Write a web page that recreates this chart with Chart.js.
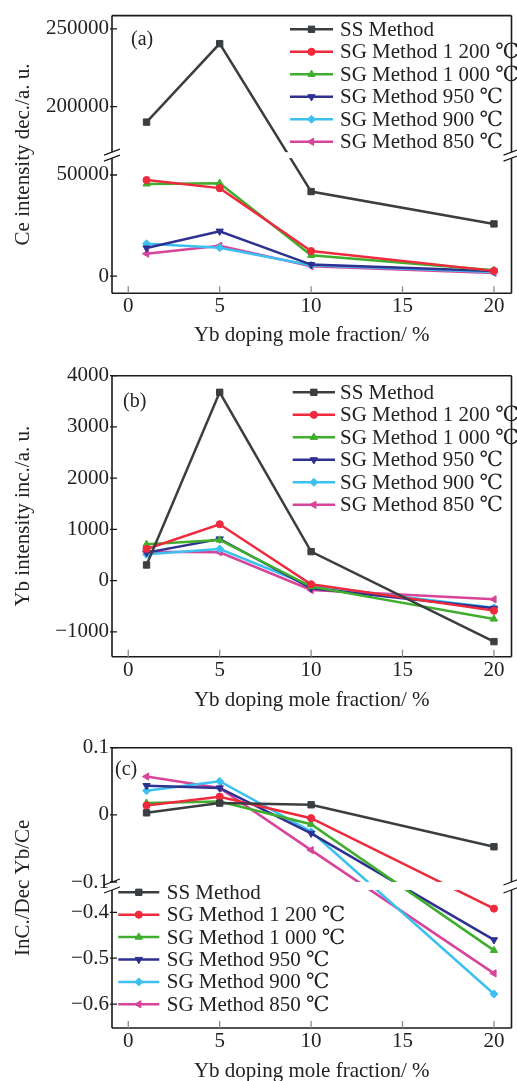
<!DOCTYPE html>
<html><head><meta charset="utf-8">
<script src="https://cdn.jsdelivr.net/npm/chart.js@4.4.0/dist/chart.umd.min.js"></script>
<style>
html,body{margin:0;padding:0;background:#fff;width:517px;height:1081px;overflow:hidden}
.p{position:absolute;left:0;width:517px}
canvas{display:block}
</style></head><body>
<div class="p" style="top:0;height:360px"><canvas id="ca" width="517" height="360"></canvas></div>
<div class="p" style="top:360px;height:360px"><canvas id="cb" width="517" height="360"></canvas></div>
<div class="p" style="top:720px;height:361px"><canvas id="cc" width="517" height="361"></canvas></div>
<script>
// ---------- data ----------
const xValues = [1, 5, 10, 20];
const xTicks = [0, 5, 10, 15, 20];
const seriesNames = ['SS Method', 'SG Method 1 200 ℃', 'SG Method 1 000 ℃', 'SG Method 950 ℃', 'SG Method 900 ℃', 'SG Method 850 ℃'];

// (a) Ce intensity dec.
const ceSS   = [190000, 240500, 41800, 25800];
const ce1200 = [47500, 43500, 12400, 2600];
const ce1000 = [45600, 45900, 10300, 2900];
const ce950  = [13900, 22200, 5700, 2500];
const ce900  = [16000, 14000, 5400, 2100];
const ce850  = [11100, 15000, 4900, 1600];
const ceTicks = [0, 50000, 200000, 250000];

// (b) Yb intensity inc.
const ybSS   = [307, 3676, 567, -1189];
const yb1200 = [619, 1101, -70, -584];
const yb1000 = [710, 795, -116, -747];
const yb950  = [548, 814, -148, -539];
const yb900  = [515, 619, -103, -526];
const yb850  = [567, 554, -181, -363];
const ybTicks = [-1000, 0, 1000, 2000, 3000, 4000];

// (c) InC./Dec Yb/Ce
const rSS   = [0.003, 0.0175, 0.015, -0.0475];
const r1200 = [0.014, 0.027, -0.005, -0.392];
const r1000 = [0.0175, 0.02, -0.014, -0.483];
const r950  = [0.0435, 0.04, -0.0275, -0.46];
const r900  = [0.036, 0.05, -0.025, -0.578];
const r850  = [0.057, 0.04, -0.0525, -0.533];
const rTicks = [-0.6, -0.5, -0.4, -0.1, 0, 0.1];

// ---------- styles ----------
const colors = ['#3a3e40', '#ef2a3d', '#3fae2c', '#2e3190', '#3cc0f0', '#d7449a'];
const pStyles = ['rect', 'circle', 'triangle', 'triangle', 'rectRot', 'triangle'];
const pRot = [0, 0, 0, 180, 0, 270];
const pRad = [4.5, 3.6, 4.2, 4.2, 4, 4.2];
const FONT = '"Liberation Serif", "DejaVu Serif", "Times New Roman", serif';
const TXT = '#222';

// ---------- broken-axis scale (piecewise linear mapping) ----------
function interp(k, v, a, b) {
  let i = 0;
  while (i < k.length - 2 && v > k[i + 1][a]) i++;
  const p = k[i], q = k[i + 1];
  return p[b] + (v - p[a]) * (q[b] - p[b]) / (q[a] - p[a]);
}
function makeBroken(id, knots) {
  class S extends Chart.LinearScale {
    getPixelForValue(v) {
      const f = interp(knots, v, 0, 1);
      return this.bottom - f * (this.bottom - this.top);
    }
    getValueForPixel(p) {
      const f = (this.bottom - p) / (this.bottom - this.top);
      return interp(knots, f, 1, 0);
    }
  }
  S.id = id;
  S.defaults = Chart.LinearScale.defaults;
  Chart.register(S);
}
makeBroken('brokenA', [[-8480, 0], [58333, 0.4868], [170626, 0.5082], [258557, 1]]);
makeBroken('brokenC', [[-0.652, 0], [-0.3515, 0.4923], [-0.1, 0.5209], [0.1, 1]]);

// ---------- decoration plugin ----------
const deco = {
  id: 'deco',
  afterDatasetsDraw(chart, args, o) {
    const {ctx, chartArea: a} = chart;
    const ys = chart.scales.y, xs = chart.scales.x;
    ctx.save();
    let b0 = null, b1 = null;
    if (o.band) {
      b0 = ys.getPixelForValue(o.band[0]);
      b1 = ys.getPixelForValue(o.band[1]);
      ctx.fillStyle = '#fff';
      ctx.fillRect(a.left - 3, b0, a.right - a.left + 6, b1 - b0);
    }
    // frame
    ctx.strokeStyle = '#1a1a1a';
    ctx.lineWidth = 1.6;
    ctx.beginPath();
    ctx.moveTo(a.left, a.top); ctx.lineTo(a.right, a.top);
    ctx.moveTo(a.left, a.bottom); ctx.lineTo(a.right, a.bottom);
    for (const ex of [a.left, a.right]) {
      if (o.band) {
        ctx.moveTo(ex, a.top); ctx.lineTo(ex, b0);
        ctx.moveTo(ex, b1); ctx.lineTo(ex, a.bottom);
      } else {
        ctx.moveTo(ex, a.top); ctx.lineTo(ex, a.bottom);
      }
    }
    ctx.stroke();
    if (o.band) {
      ctx.lineWidth = 1.2;
      ctx.beginPath();
      for (const ex of [a.left, a.right]) {
        for (const y of [b0, b1]) {
          ctx.moveTo(ex - 8, y + 3); ctx.lineTo(ex + 8, y - 3);
        }
      }
      ctx.stroke();
    }
    // ticks
    ctx.lineWidth = 1.3;
    ctx.strokeStyle = '#1a1a1a';
    ctx.beginPath();
    ys.ticks.forEach(t => {
      const py = ys.getPixelForValue(t.value);
      ctx.moveTo(a.left - 2, py); ctx.lineTo(a.left + 5, py);
    });
    ctx.stroke();
    ctx.strokeStyle = '#8a8a8a';
    ctx.beginPath();
    xs.ticks.forEach(t => {
      const px = xs.getPixelForValue(t.value);
      ctx.moveTo(px, a.bottom); ctx.lineTo(px, a.bottom - 7);
    });
    ctx.stroke();
    // legend
    const L = o.legend;
    ctx.font = '21px ' + FONT;
    ctx.textBaseline = 'middle';
    ctx.textAlign = 'left';
    chart.data.datasets.forEach((ds, i) => {
      const y = L.y0 + i * L.dy;
      ctx.strokeStyle = ds.borderColor;
      ctx.lineWidth = 2.5;
      ctx.beginPath(); ctx.moveTo(L.x0, y); ctx.lineTo(L.x1, y); ctx.stroke();
      ctx.fillStyle = ds.borderColor;
      ctx.lineWidth = 1;
      Chart.helpers.drawPoint(ctx, {pointStyle: ds.pointStyle, rotation: ds.pointRotation, radius: ds.pointRadius, borderWidth: 1}, (L.x0 + L.x1) / 2, y);
      ctx.fillStyle = TXT;
      ctx.fillText(ds.label, L.tx, y + 1);
    });
    // panel tag
    ctx.font = '20px ' + FONT;
    ctx.fillStyle = TXT;
    ctx.fillText(o.tag.text, o.tag.x, o.tag.y);
    ctx.restore();
  }
};

function fmt(v) {
  const s = String(Math.abs(v));
  return v < 0 ? '\u2212' + s : s;
}

function makeDatasets(arrs) {
  return arrs.map((d, i) => ({
    label: seriesNames[i],
    data: xValues.map((x, j) => ({x: x, y: d[j]})),
    borderColor: colors[i],
    backgroundColor: colors[i],
    borderWidth: 2.5,
    pointStyle: pStyles[i],
    pointRotation: pRot[i],
    pointRadius: pRad[i],
    pointBorderWidth: 1,
    tension: 0
  }));
}

function makeChart(id, cfg) {
  return new Chart(document.getElementById(id), {
    type: 'line',
    data: {datasets: makeDatasets(cfg.series)},
    options: {
      responsive: false,
      animation: false,
      devicePixelRatio: 1,
      layout: {padding: {top: cfg.top, right: 3, bottom: 0, left: 0}},
      plugins: {
        legend: {display: false},
        tooltip: {enabled: false},
        deco: cfg.deco
      },
      scales: {
        x: {
          type: 'linear', min: -0.89, max: 20.96,
          afterBuildTicks: s => { s.ticks = xTicks.map(v => ({value: v})); },
          afterFit: s => { s.height = cfg.xh; },
          grid: {display: false, drawTicks: false},
          border: {display: false},
          ticks: {padding: 1, color: TXT, font: {family: FONT, size: 21}, callback: v => fmt(v)},
          title: {display: true, text: 'Yb doping mole fraction/ %', color: TXT, font: {family: FONT, size: 21}, padding: {top: 0, bottom: cfg.xtp}}
        },
        y: {
          type: cfg.ytype, min: cfg.ymin, max: cfg.ymax,
          afterBuildTicks: s => { s.ticks = cfg.yticks.map(v => ({value: v})); },
          afterFit: s => { s.width = 112; },
          grid: {display: false, drawTicks: false},
          border: {display: false},
          ticks: {padding: 3, color: TXT, font: {family: FONT, size: 21}, callback: v => fmt(v)},
          title: {display: true, text: cfg.ytitle, color: TXT, font: {family: FONT, size: 21}, padding: {top: 11, bottom: 0}}
        }
      }
    },
    plugins: [deco]
  });
}

makeChart('ca', {
  series: [ceSS, ce1200, ce1000, ce950, ce900, ce850],
  top: 13.3, xh: 66.7, xtp: 12,
  ytype: 'brokenA', ymin: -8480, ymax: 258557, yticks: ceTicks,
  ytitle: 'Ce intensity dec./a. u.',
  deco: {band: [170626, 58333], legend: {x0: 290, x1: 333, tx: 340, y0: 29.3, dy: 22.5}, tag: {text: '(a)', x: 131, y: 40}}
});
makeChart('cb', {
  series: [ybSS, yb1200, yb1000, yb950, yb900, yb850],
  top: 15.7, xh: 63.3, xtp: 7,
  ytype: 'linear', ymin: -1483, ymax: 4000, yticks: ybTicks,
  ytitle: 'Yb intensity inc./a. u.',
  deco: {band: null, legend: {x0: 292.7, x1: 335, tx: 340, y0: 32.3, dy: 22.5}, tag: {text: '(b)', x: 123, y: 41.7}}
});
makeChart('cc', {
  series: [rSS, r1200, r1000, r950, r900, r850],
  top: 27.7, xh: 53, xtp: -3,
  ytype: 'brokenC', ymin: -0.652, ymax: 0.1, yticks: rTicks,
  ytitle: 'InC./Dec Yb/Ce',
  deco: {band: [-0.1, -0.3515], legend: {x0: 118.3, x1: 159.3, tx: 166.7, y0: 172.3, dy: 22.4}, tag: {text: '(c)', x: 115, y: 49.3}}
});
</script>
</body></html>
